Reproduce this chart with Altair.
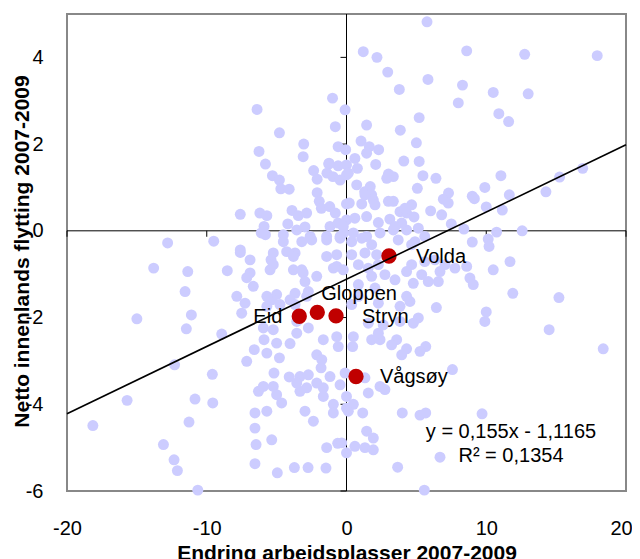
import altair as alt
import pandas as pd

# ---- data ----
gx = [
    -1.0, -0.1, -6.4, -0.8, -4.8, -3.06, -0.6, -0.06, -6.26, -3.1, -5.8, -1.27, -0.6, -2.35, -5.3, -4.8, -2.1,
    -1.4, -0.97, -0.46, 0.0, -4.7, -4.1, -2.1, -1.95, -1.8, -1.2, -0.8, 0.0, -7.6, -6.2, -5.7, -3.9, -3.45,
    -2.85, -4.2, -5.9, -6.1, -5.8, -2.97, -3.56, -2.6, -1.18, -0.6, 0.0, -0.2, -12.8, -9.5, -7.6, -1.25, -4.52,
    -1.42, -0.46, -0.23,
    5.76, 1.2, 2.18, 8.6, 12.75, 17.94, 2.95, 5.83, 3.78, 8.3, 10.5, 13.0, 8.0, 10.9, 11.6, 5.2, 1.44, 3.85,
    5.0, 1.04, 1.63, 2.3, 1.44, 0.6, 0.0, 2.09, 4.1, 5.2, 0.78, 0.13, 3.0, 3.35, 2.88, 5.47, 6.4, 11.05, 15.25,
    16.9, 0.73, 1.7, 1.3, 5.07, 9.9, 14.27, 7.3, 6.93, 7.28, 9.0, 9.15, 11.65, 0.2, 1.09, 1.92, 3.0, 3.35, 4.66,
    6.02, 6.81, 10.0, 11.15, 0.6, 1.44, 2.28, 3.1, 3.83, 4.3, 4.83, 5.14, 7.5, 8.4, 10.74, 12.57, 9.0, 10.14,
    10.2, 0.49, 1.44, 2.4, 3.35, 4.3, 4.9, 1.8, 1.32, 2.04, 4.18, 3.95, 3.47,
    -13.8, -11.36, -8.53, -7.6, -6.9, -6.9, -7.14, -6.67, -5.24, -5.4, -5.47, -3.68, -3.8, -3.1, -2.97, -2.13,
    -3.68, -2.73, -1.42, -0.7, -0.23, -11.55, -11.1, -11.46, -15.0, -8.93, -7.85, -7.26, -7.5, -5.0, -5.35,
    -5.7, -4.76, -5.95, -5.24, -5.9, -5.0, -4.04, -5.7, -6.6, -7.14, -4.8, -3.56, -2.73, -1.66, -0.7, -0.59,
    -2.13, -1.77, -1.82, -12.3, -9.6, -5.19, -4.1, -3.33, -2.73, -2.13, -1.18, -0.1, -6.3, -5.24, -5.0, -4.64,
    -3.33, -1.66, -15.7, -10.84, -9.57, -18.15, -11.27, -6.55, -5.7, -6.55, -6.47, -5.35, -2.97, -2.37, -0.94,
    -0.94, 0.0, -13.1, -12.34, -12.1, -6.55, -4.95, -3.73, -2.75, -1.47, -1.42, -0.63, -10.64,
    -4.52, -3.2, -2.49, -1.42, -0.46, -5.24, -4.28, -3.8, -3.2, -0.7, -0.94, -5.7, -4.04, -3.68, -2.85, -3.56,
    -5.95, -3.56, -2.85, -1.66, -0.46,
    10.5, 11.7, 8.6, 8.83, 9.07, 6.69, 5.85, 6.57, 4.78, 11.9, 15.2, 10.0, 9.9, 14.5, 18.37, 4.54, 4.3, 3.83,
    6.43, 5.14, 4.78, 3.59, 4.3, 5.67, 5.26, 0.49, 0.44, 1.8, 2.4, 3.23, 3.95, 7.58, 1.32, 2.4, 2.75, 0.0,
    1.56, 0.49, 0.13, 1.16, 3.99, 5.26, 5.67, 9.7, 1.44, 1.92, 0.6, 1.32, 1.92, 6.69, 3.66, 5.57, 0.0, -0.34,
    0.37, 1.09, 1.8, 0.37, 1.32, 2.16, 0.85, 1.56, 2.28, 3.7, 4.66, 5.6, 4.66, 5.6, 6.33, 7.05, 7.76, 1.8,
    2.75, 3.47, 4.3, 5.38, 0.85, 2.04, 0.85, 2.28, 0.37, 2.28, 1.56, 2.63, 3.83,
]
gy = [
    3.06, 2.79, 2.8, 2.4, 2.26, 2.0, 1.94, 1.87, 1.83, 1.71, 1.54, 1.54, 1.5, 1.39, 1.27, 1.17, 1.19,
    1.33, 1.25, 1.17, 1.29, 0.97, 0.96, 0.88, 0.68, 0.52, 0.56, 0.41, 0.62, 0.38, 0.41, 0.35, 0.47, 0.35,
    0.41, 0.16, 0.1, -0.05, -0.09, 0.09, 0.02, -0.13, 0.1, 0.18, 0.25, -0.05, -0.28, -0.24, -0.44, 1.56, -0.09,
    -0.13, -0.13, 0.1,
    4.82, 4.13, 4.0, 4.15, 4.07, 4.04, 3.66, 3.49, 3.26, 3.36, 3.19, 3.16, 2.95, 2.7, 2.52, 2.61, 2.44, 2.32,
    2.03, 2.07, 1.94, 1.87, 1.79, 1.67, 1.52, 1.53, 1.61, 1.6, 1.44, 1.33, 1.31, 1.25, 1.21, 1.27, 1.21, 1.27, 1.24,
    1.44, 1.06, 1.02, 0.9, 0.98, 1.0, 0.9, 0.87, 0.73, 0.64, 0.8, 0.74, 0.83, 0.64, 0.62, 0.71, 0.68, 0.68, 0.6,
    0.46, 0.37, 0.55, 0.48, 0.29, 0.33, 0.19, 0.27, 0.44, 0.41, 0.32, 0.06, 0.16, 0.04, -0.03, 0.0, -0.26, -0.19,
    -0.36, -0.05, -0.13, -0.05, 0.02, 0.02, -0.25, 0.83, 0.83, 0.6, 0.52, 0.18, 0.1,
    -0.86, -0.94, -0.92, -0.5, -0.67, -0.97, -1.08, -1.28, -0.51, -0.67, -0.9, -0.51, -0.9, -0.97, -1.17, -1.05,
    -1.44, -1.4, -0.59, -0.82, -0.9, -1.4, -1.94, -2.26, -2.03, -2.38, -1.51, -1.67, -1.9, -1.47, -1.59,
    -1.74, -1.7, -2.24, -2.28, -2.51, -2.59, -2.6, -2.82, -2.74, -3.01, -2.93, -2.36, -2.24, -2.51, -2.44, -2.67,
    -2.86, -2.97, -3.16, -3.09, -3.31, -3.28, -3.37, -3.36, -3.32, -3.51, -3.36, -3.28, -3.7, -3.59, -3.78, -3.97,
    -3.7, -3.82, -3.91, -3.88, -3.97, -4.49, -4.41, -4.2, -4.16, -4.55, -4.93, -4.82, -4.16, -4.39, -4.0,
    -4.2, -4.09, -4.93, -5.28, -5.53, -5.37, -5.58, -5.46, -5.46, -5.47, -5.0, -4.9, -5.98,
    -0.25, -0.25, -0.21, -0.21, -0.17, -0.78, -0.48, -0.59, -0.9, -0.55, -0.86, -1.51, -1.59, -1.7, -1.51, -2.09,
    -3.59, -3.51, -3.62, -3.62, -3.55,
    -0.9, -0.71, -0.82, -1.09, -1.24, -0.94, -1.17, -1.17, -1.21, -1.44, -1.54, -1.87, -2.09, -2.28, -2.72, -1.63, -1.51, -1.74,
    -1.77, -2.01, -2.13, -2.51, -2.72, -2.67, -2.78, -2.44, -2.67, -2.51, -2.51, -2.63, -2.86, -3.2, -3.39, -3.59, -3.66, -3.82,
    -3.74, -4.0, -4.16, -4.2, -4.2, -4.25, -4.2, -4.22, -4.62, -4.78, -4.97, -5.0, -5.05, -5.22, -5.45, -5.98, -5.12, -4.89,
    -0.25, -0.17, -0.32, -0.55, -0.51, -0.55, -0.78, -0.86, -0.78, -0.21, -0.32, -0.13, -0.78, -0.71, -0.67, -0.78, -0.86, -1.05,
    -1.01, -1.13, -0.94, -1.01, -1.24, -1.32, -1.51, -1.67, -1.7, -2.36, -2.13, -2.17, -2.09,
]
names = ["Volda", "Gloppen", "Eid", "Stryn", "Vågsøy"]
hx = [3.04, -2.09, -3.38, -0.75, 0.68]
hy = [-0.58, -1.88, -1.97, -1.96, -3.36]
slope, intercept = 0.155, -1.1165
eq_lines = ["y = 0,155x - 1,1165", "R² = 0,1354"]
eq_x = [11.77, 11.77]
eq_y = [-4.65, -5.2]
x_ticks = [-20, -10, 0, 10, 20]
y_ticks = [-6, -4, -2, 0, 2, 4]

FONT = "Liberation Sans"
n = min(len(gx), len(gy))
grey = pd.DataFrame({"x": gx[:n], "y": gy[:n]})
high = pd.DataFrame({"x": hx, "y": hy, "name": names})
eq = pd.DataFrame({"x": eq_x, "y": eq_y, "text": eq_lines})

xs = alt.Scale(domain=[-20, 20], nice=False, zero=False)
ys = alt.Scale(domain=[-6, 5], nice=False, zero=False)

xaxis = alt.Axis(values=x_ticks, grid=False, domain=False, ticks=False, labelFlush=False,
                 labelPadding=27, labelFontSize=20, labelFont=FONT, labelColor="black",
                 labelExpr="'' + datum.value",
                 labelOffset={"condition": {"test": "datum.value == 20", "value": -5}, "value": 0},
                 title="Endring arbeidsplasser 2007-2009", titleFont=FONT, titleFontSize=21,
                 titleFontWeight="bold", titleColor="black", titleX=279.5, titleY=51,
                 titleBaseline="top", titleAlign="center")
yaxis = alt.Axis(values=y_ticks, grid=False, domain=False, ticks=False, labelFlush=False,
                 labelPadding=24, labelFontSize=20, labelFont=FONT, labelColor="black",
                 labelExpr="'' + datum.value",
                 title="Netto innenlands flytting 2007-2009", titleFont=FONT, titleFontSize=21,
                 titleFontWeight="bold", titleColor="black", titleX=-45, titleY=237,
                 titleBaseline="middle", titleAlign="center", titleAngle=-90)

X = alt.X("x:Q", scale=xs, axis=xaxis)
Y = alt.Y("y:Q", scale=ys, axis=yaxis)

pts = alt.Chart(grey).mark_circle(size=120, opacity=1, color="#CCCCFF").encode(x=X, y=Y)

zero_v = alt.Chart(pd.DataFrame({"x": [0]})).mark_rule(color="black", strokeWidth=1).encode(x=X)
zero_h = alt.Chart(pd.DataFrame({"y": [0]})).mark_rule(color="black", strokeWidth=1).encode(y=Y)

xt = alt.Chart(pd.DataFrame({"x": x_ticks, "y": [0] * len(x_ticks)})).mark_tick(
    orient="vertical", size=6, thickness=1, yOffset=3, color="black", opacity=1).encode(x=X, y=Y)
yt = alt.Chart(pd.DataFrame({"x": [0] * len(y_ticks), "y": y_ticks})).mark_tick(
    orient="horizontal", size=6, thickness=1, xOffset=-3, color="black", opacity=1).encode(x=X, y=Y)

reds = alt.Chart(high).mark_circle(size=235, opacity=1, color="#C00000").encode(x=X, y=Y)

trend = alt.Chart(pd.DataFrame({"x": [-20, 20]})).transform_calculate(
    y=f"{slope} * datum.x + ({intercept})").mark_line(color="black", strokeWidth=1.6).encode(x=X, y=Y)

label_style = {"Volda": ("left", 27, 1), "Gloppen": ("left", 4, -18), "Eid": ("right", -17, 1),
               "Stryn": ("left", 26, 1), "Vågsøy": ("left", 24, 0)}
labels = []
for nm in names:
    al, dx, dy = label_style[nm]
    labels.append(
        alt.Chart(high).transform_filter(alt.datum.name == nm).mark_text(
            align=al, baseline="middle", dx=dx, dy=dy, fontSize=20, font=FONT, color="black"
        ).encode(x=X, y=Y, text="name:N")
    )

eq_text = alt.Chart(eq).mark_text(align="center", baseline="middle", fontSize=20, font=FONT,
                                  color="black").encode(x=X, y=Y, text="text:N")

chart = alt.layer(zero_v, zero_h, xt, yt, pts, reds, trend, *labels, eq_text).properties(
    width=559, height=477,
    autosize=alt.AutoSizeParams(type="none"),
    padding={"left": 59, "top": 6, "right": 6, "bottom": 68},
).configure_view(stroke="#888888", strokeWidth=2)

chart.save("out.html", embed_options={"renderer": "svg", "actions": False})
